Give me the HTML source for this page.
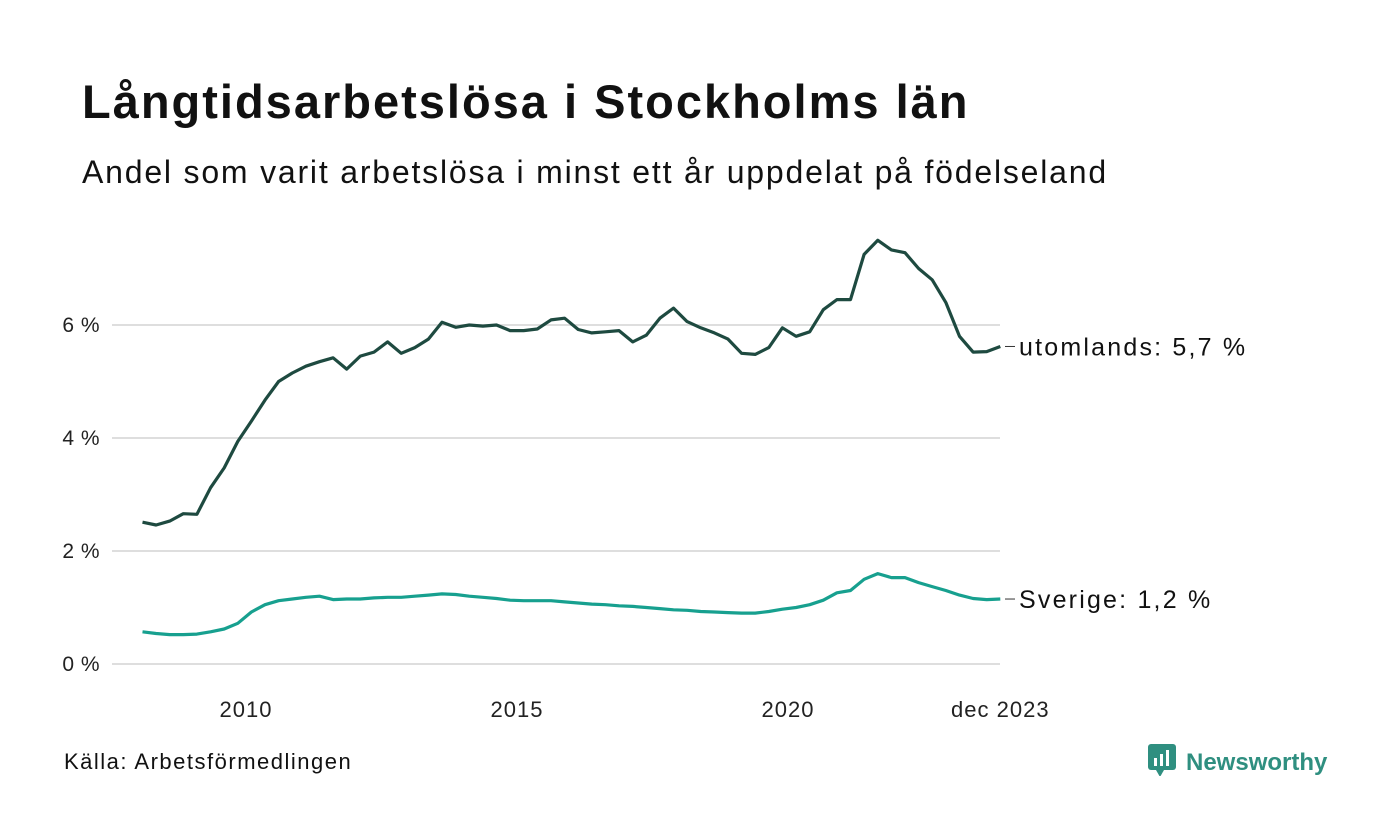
<!DOCTYPE html>
<html><head><meta charset="utf-8"><style>
body{margin:0;background:#fff;width:1400px;height:840px;overflow:hidden;font-family:"Liberation Sans",sans-serif;color:#111}
.t{position:absolute;left:82px;top:74px;font-size:47px;font-weight:bold;letter-spacing:2px}
.s{position:absolute;left:82px;top:154px;font-size:32px;letter-spacing:1.8px}
.src{position:absolute;left:64px;top:749px;font-size:22px;letter-spacing:1.5px}
.logo{position:absolute;left:1148px;top:744px;font-size:24px;font-weight:bold;color:#2f8f80}
</style></head><body>
<div class="t">Långtidsarbetslösa i Stockholms län</div>
<div class="s">Andel som varit arbetslösa i minst ett år uppdelat på födelseland</div>
<svg id="c" width="1400" height="840" style="position:absolute;left:0;top:0"></svg>
<div class="src">Källa: Arbetsförmedlingen</div>
<div class="logo"><svg width="28" height="32" style="vertical-align:-6px;margin-right:10px"><rect x="0" y="0" width="28" height="26" rx="3" fill="#2f8f80"/><polygon points="8,26 16,26 12,33" fill="#2f8f80"/><rect x="6" y="14" width="3" height="8" fill="#fff"/><rect x="12" y="10" width="3" height="12" fill="#fff"/><rect x="18" y="6" width="3" height="16" fill="#fff"/></svg>Newsworthy</div>
<script>
const yTicks=[0,2,4,6];
const yTickLabels=["0 %","2 %","4 %","6 %"];
const xTicks=[2010,2015,2020,2023.917];
const xTickLabels=["2010","2015","2020","dec 2023"];
const startDate=2008.09, endDate=2023.917;
const utomlands=[2.51,2.46,2.53,2.66,2.65,3.12,3.47,3.94,4.3,4.67,5.0,5.15,5.27,5.35,5.42,5.22,5.45,5.52,5.7,5.5,5.6,5.75,6.05,5.96,6.0,5.98,6.0,5.9,5.9,5.93,6.09,6.12,5.92,5.86,5.88,5.9,5.7,5.82,6.12,6.3,6.06,5.95,5.86,5.75,5.5,5.48,5.6,5.95,5.8,5.88,6.27,6.45,6.45,7.25,7.5,7.33,7.28,7.0,6.8,6.4,5.8,5.52,5.53,5.62];
const sverige=[0.57,0.54,0.52,0.52,0.53,0.57,0.62,0.72,0.92,1.05,1.12,1.15,1.18,1.2,1.14,1.15,1.15,1.17,1.18,1.18,1.2,1.22,1.24,1.23,1.2,1.18,1.16,1.13,1.12,1.12,1.12,1.1,1.08,1.06,1.05,1.03,1.02,1.0,0.98,0.96,0.95,0.93,0.92,0.91,0.9,0.9,0.93,0.97,1.0,1.05,1.13,1.26,1.3,1.5,1.6,1.53,1.53,1.44,1.37,1.3,1.22,1.16,1.14,1.15];
const seriesLabels=["utomlands: 5,7 %","Sverige: 1,2 %"];
const NS="http://www.w3.org/2000/svg";
const svg=document.getElementById('c');
const X=d=>246+(d-2010)*54.2;
const Y=v=>664-v*56.5;
function mk(tag,attrs,parent){const e=document.createElementNS(NS,tag);for(const k in attrs)e.setAttribute(k,attrs[k]);(parent||svg).appendChild(e);return e;}
yTicks.forEach((v,i)=>{
  const g=mk('line',{x1:112,x2:1000,y1:Y(v),y2:Y(v),stroke:'#dedede','stroke-width':2});
  
  
  const t=mk('text',{x:100,y:Y(v)+7,'text-anchor':'end','font-size':21,'letter-spacing':0.5,fill:'#222'});
  t.textContent=yTickLabels[i];
  
  
});
xTicks.forEach((d,i)=>{
  const t=mk('text',{x:X(d),y:717,'text-anchor':'middle','font-size':22,'letter-spacing':1,fill:'#222'});
  t.textContent=xTickLabels[i];
  
  
});
function draw(vals,color,name,label){
  const n=vals.length;
  const pts=vals.map((v,i)=>X(startDate+i*(endDate-startDate)/(n-1)).toFixed(1)+','+Y(v).toFixed(1)).join(' ');
  const p=mk('polyline',{points:pts,fill:'none',stroke:color,'stroke-width':3.2,'stroke-linejoin':'round'});
  
  
  const ly=Y(vals[n-1]);
  mk('line',{x1:1005,x2:1015,y1:ly,y2:ly,stroke:'#333','stroke-width':1});
  const t=mk('text',{x:1019,y:ly+9,'font-size':25,'letter-spacing':2.2,fill:'#111'});
  t.textContent=label;
  
  
}
draw(sverige,'#17a08f','line-sverige',seriesLabels[1]);
draw(utomlands,'#1e4a40','line-utomlands',seriesLabels[0]);
</script>
</body></html>
